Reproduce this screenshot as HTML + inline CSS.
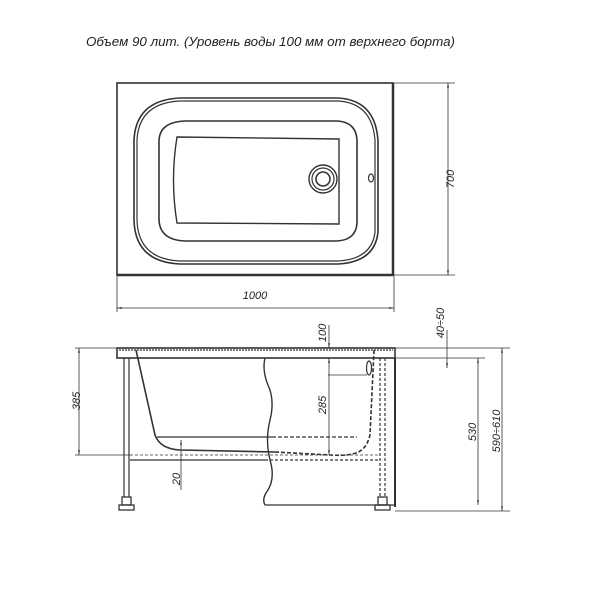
<!DOCTYPE html>
<html><head><meta charset="utf-8"><style>
body{margin:0;background:#fff}
svg{display:block}
text{font-family:"Liberation Sans",sans-serif;font-style:italic;fill:#222}
</style></head><body>
<svg width="600" height="600" viewBox="0 0 600 600" xmlns="http://www.w3.org/2000/svg">
<defs>
<marker id="a" viewBox="0 0 10 10" refX="10" refY="5" markerWidth="6" markerHeight="6" orient="auto-start-reverse"><path d="M0,3 L10,5 L0,7z" fill="#333"/></marker>
</defs>
<text x="86" y="46" font-size="13" textLength="369" lengthAdjust="spacingAndGlyphs">Объем 90 лит. (Уровень воды 100 мм от верхнего борта)</text>
<g fill="none" stroke="#333" stroke-width="1.2">
<rect x="117" y="83" width="276" height="192" stroke-width="1.6"/>
<line x1="117" y1="275" x2="393" y2="275" stroke-width="2.5"/>
<line x1="393" y1="83" x2="393" y2="275" stroke-width="2.5"/>
<path d="M180,98 L338,98 Q375,100 378,140 L378,232 Q375,262 338,264 L180,264 Q135,262 134,220 L134,140 Q136,100 180,98Z" stroke-width="1.6"/>
<path d="M180,101 L338,101 Q372,103 375,140 L375,232 Q372,259 338,261 L180,261 Q138,259 137,220 L137,140 Q139,103 180,101Z"/>
<path d="M185,121 L337,121 Q356,122 357,140 L357,223 Q356,240 337,241 L185,241 Q160,240 159,220 L159,140 Q160,122 185,121Z" stroke-width="1.6"/>
<path d="M177,137 L339,139 L339,224 L177,223 Q170,180 177,137Z" stroke-width="1.4"/>
<circle cx="323" cy="179" r="14" stroke-width="1.4"/>
<circle cx="323" cy="179" r="11"/>
<circle cx="323" cy="179" r="7" stroke-width="1.6"/>
<ellipse cx="371" cy="178" rx="2.5" ry="4"/>
<line x1="393" y1="83" x2="455" y2="83" stroke-width="0.8"/>
<line x1="393" y1="275" x2="455" y2="275" stroke-width="0.8"/>
<line x1="448" y1="83" x2="448" y2="275" stroke-width="0.8" marker-start="url(#a)" marker-end="url(#a)"/>
<line x1="117" y1="275" x2="117" y2="312" stroke-width="0.8"/>
<line x1="394" y1="275" x2="394" y2="312" stroke-width="0.8"/>
<line x1="117" y1="308" x2="394" y2="308" stroke-width="0.8" marker-start="url(#a)" marker-end="url(#a)"/>
<rect x="117" y="348" width="278" height="10" stroke-width="1.6"/>
<line x1="119" y1="350" x2="393" y2="350" stroke-dasharray="2,1"/>
<line x1="395" y1="358" x2="395" y2="507" stroke-width="2"/>
<line x1="265" y1="505" x2="395" y2="505" stroke-width="1.3"/>
<path d="M136,350 L155,435 Q160,449 180,450 L275,452" stroke-width="1.6"/>
<path d="M275,452 L330,455 Q345,456 352,454 Q366,452 370,435 L374,350" stroke-width="1.6" stroke-dasharray="4,2"/>
<line x1="157" y1="437" x2="272" y2="437" stroke-width="1.2"/>
<line x1="272" y1="437" x2="357" y2="437" stroke-dasharray="4,2"/>
<line x1="130" y1="460" x2="265" y2="460"/>
<line x1="265" y1="460" x2="380" y2="460" stroke-dasharray="3,2"/>
<line x1="130" y1="455" x2="380" y2="455" stroke-dasharray="3,2" stroke-width="0.7"/>
<path d="M265,358 Q262,370 268,385 Q275,400 270,420 Q265,440 270,460 Q276,480 266,493 Q262,500 265,505" stroke-width="1.4"/>
<ellipse cx="369" cy="368" rx="2.5" ry="7"/>
<line x1="328" y1="375" x2="367" y2="375" stroke-width="0.8"/>
<line x1="124" y1="358" x2="124" y2="497"/><line x1="129" y1="358" x2="129" y2="497"/>
<rect x="122" y="497" width="9" height="8" stroke-width="1.3"/>
<rect x="119" y="505" width="15" height="5" stroke-width="1.3"/>
<line x1="380" y1="358" x2="380" y2="497" stroke-dasharray="3,2"/><line x1="385" y1="358" x2="385" y2="497" stroke-dasharray="3,2"/>
<rect x="378" y="497" width="9" height="8" stroke-width="1.3"/>
<rect x="375" y="505" width="15" height="5" stroke-width="1.3"/>
<line x1="75" y1="348" x2="117" y2="348" stroke-width="0.8"/>
<line x1="75" y1="455" x2="130" y2="455" stroke-width="0.8"/>
<line x1="79" y1="348" x2="79" y2="455" stroke-width="0.8" marker-start="url(#a)" marker-end="url(#a)"/>
<line x1="329" y1="325" x2="329" y2="348" stroke-width="0.8" marker-end="url(#a)"/>
<line x1="329" y1="358" x2="329" y2="455" stroke-width="0.8" marker-start="url(#a)" marker-end="url(#a)"/>
<line x1="181" y1="440" x2="181" y2="490" stroke-width="0.8" marker-start="url(#a)"/>
<line x1="395" y1="348" x2="510" y2="348" stroke-width="0.8"/>
<line x1="395" y1="358" x2="485" y2="358" stroke-width="0.8"/>
<line x1="395" y1="511" x2="510" y2="511" stroke-width="0.8"/>
<line x1="447" y1="330" x2="447" y2="368" stroke-width="0.8" marker-end="url(#a)"/>
<line x1="478" y1="358" x2="478" y2="505" stroke-width="0.8" marker-start="url(#a)" marker-end="url(#a)"/>
<line x1="502" y1="348" x2="502" y2="511" stroke-width="0.8" marker-start="url(#a)" marker-end="url(#a)"/>
</g>
<g font-size="11">
<text transform="translate(454,179) rotate(-90)" text-anchor="middle">700</text>
<text x="255" y="299" text-anchor="middle">1000</text>
<text transform="translate(80,401) rotate(-90)" text-anchor="middle">385</text>
<text transform="translate(326,333) rotate(-90)" text-anchor="middle">100</text>
<text transform="translate(326,405) rotate(-90)" text-anchor="middle">285</text>
<text transform="translate(180,479) rotate(-90)" text-anchor="middle">20</text>
<text transform="translate(444,323) rotate(-90)" text-anchor="middle">40÷50</text>
<text transform="translate(476,432) rotate(-90)" text-anchor="middle">530</text>
<text transform="translate(500,431) rotate(-90)" text-anchor="middle">590÷610</text>
</g>
</svg>
</body></html>
